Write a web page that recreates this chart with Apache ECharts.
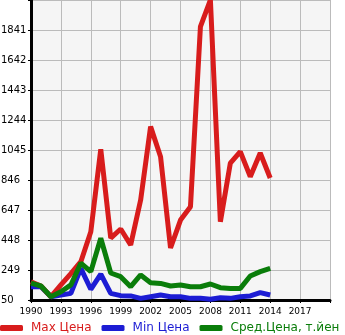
<!DOCTYPE html>
<html>
<head>
<meta charset="utf-8">
<script src="https://cdn.jsdelivr.net/npm/echarts@6/dist/echarts.min.js"></script>
<style>
html,body{margin:0;padding:0;background:#fff;}
#chart{width:345px;height:335px;}
</style>
</head>
<body>
<div id="chart"></div>
<script>
// Years and price series (Max, Min, average)
const years = [1990,1991,1992,1993,1994,1995,1996,1997,1998,1999,2000,2001,2002,2003,2004,2005,2006,2007,2008,2009,2010,2011,2012,2013,2014];
const maxPrice = [171,143,72,150,225,304,503,1050,461,521,415,713,1200,1000,395,580,669,1863,2040,569,958,1034,868,1025,859];
const minPrice = [138,138,72,83,94,260,121,222,94,79,77,61,72,83,72,72,61,61,55,65,61,72,77,99,83];
const avgPrice = [162,143,72,105,150,295,238,460,229,205,138,216,165,160,143,150,138,138,156,132,127,127,209,238,260];
const seriesNames = ['Max Цена','Min Цена','Сред.Цена, т.йен'];
const colors = ['#d81c1c','#1c1cd4','#0a7d0a'];

const pairs = arr => years.map((y,i)=>[y,arr[i]]);

const chart = echarts.init(document.getElementById('chart'), null, {renderer:'canvas'});
const font = 'DejaVu Sans';
chart.setOption({
  animation:false,
  color:colors,
  grid:{left:31,right:15,top:0,bottom:35,show:true,backgroundColor:'#f5f5f5',borderWidth:0,
        containLabel:false,outerBoundsMode:'none'},
  xAxis:{
    type:'value',min:1990,max:2020,interval:3,
    axisLine:{show:true,onZero:false,lineStyle:{color:'#000',width:3}},
    axisTick:{show:true,length:3,lineStyle:{color:'#000',width:1}},
    splitLine:{show:true,lineStyle:{color:'#bbbbbb',width:1}},
    axisLabel:{color:'#000',fontSize:9,fontFamily:font,margin:7,
      formatter:v=> v>=2020 ? '' : String(v)}
  },
  yAxis:{
    type:'value',min:50,max:2040,interval:199,
    axisLine:{show:true,onZero:false,lineStyle:{color:'#000',width:3}},
    axisTick:{show:true,length:3,lineStyle:{color:'#000',width:1}},
    splitLine:{show:true,lineStyle:{color:'#bbbbbb',width:1}},
    axisLabel:{color:'#000',fontSize:10,fontFamily:font,margin:30,align:'left',
      padding:[0,0,7,0],
      formatter:v=> v>=2040 ? '' : String(v)}
  },
  legend:{
    top:322,left:0,width:400,padding:0,itemWidth:23,itemHeight:6,itemGap:10,icon:'roundRect',
    data:seriesNames.map((n,i)=>({name:n,textStyle:{color:colors[i]}})),
    textStyle:{fontSize:12,fontFamily:font,padding:[0,0,0,3]}
  },
  series:[
    {name:seriesNames[0],type:'line',data:pairs(maxPrice),showSymbol:false,lineStyle:{width:5,color:colors[0]},z:3},
    {name:seriesNames[1],type:'line',data:pairs(minPrice),showSymbol:false,lineStyle:{width:5,color:colors[1]},z:2},
    {name:seriesNames[2],type:'line',data:pairs(avgPrice),showSymbol:false,lineStyle:{width:5,color:colors[2]},z:4}
  ]
});
</script>
</body>
</html>
